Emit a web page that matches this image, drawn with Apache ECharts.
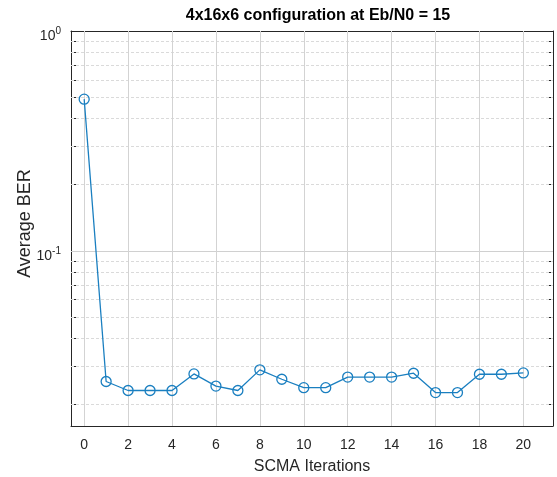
<!DOCTYPE html>
<html><head><meta charset="utf-8">
<script src="https://cdn.jsdelivr.net/npm/echarts@6/dist/echarts.min.js"></script>
<style>html,body{margin:0;padding:0;background:#fff}#c{width:557px;height:477px}</style>
</head><body><div id="c"></div>
<script>
const iterations = [0,1,2,3,4,5,6,7,8,9,10,11,12,13,14,15,16,17,18,19,20];
const avgBER = [0.49,0.0255,0.0232,0.0232,0.0232,0.0276,0.0243,0.0232,0.0288,0.0261,0.0239,0.0239,0.0267,0.0267,0.0267,0.0278,0.0227,0.0227,0.0275,0.0275,0.0279];
const xTicks = [0,2,4,6,8,10,12,14,16,18,20];
const yMajor = [0.1,1];
const yMinor = [0.02,0.03,0.04,0.05,0.06,0.07,0.08,0.09,0.2,0.3,0.4,0.5,0.6,0.7,0.8,0.9];
const titleText = '4x16x6 configuration at Eb/N0 = 15';

const font = 'Liberation Sans, Arial, Helvetica, sans-serif';
const axisColor = '#262626';
const lineColor = '#1a7fc0';
const allY = yMajor.concat(yMinor);
const chart = echarts.init(document.getElementById('c'));
const baseY = {
  type:'log', logBase:10, min:0.016, max:1,
  axisLine:{show:true, onZero:false, lineStyle:{color:axisColor, width:1}},
  axisTick:{show:true, inside:true, length:5, customValues: allY, lineStyle:{color:axisColor}},
  splitLine:{show:false}, minorTick:{show:false}
};
chart.setOption({
  animation:false,
  title:{text:titleText, left:313, top:3, textAlign:'center',
    textStyle:{fontFamily:font, fontWeight:'bold', fontSize:16, color:'#000'}},
  grid:{left:71, right:4, top:31, bottom:51, containLabel:false, outerBoundsMode:'none'},
  xAxis:[{
    type:'value', min:-0.6, max:21.35,
    name:'SCMA Iterations', nameLocation:'middle', nameGap:33, nameMoveOverlap:false,
    nameTextStyle:{fontFamily:font, fontSize:16, color:axisColor},
    axisLine:{show:true, onZero:false, lineStyle:{color:axisColor}},
    axisTick:{show:true, inside:true, length:5, customValues:xTicks, lineStyle:{color:axisColor}},
    axisLabel:{customValues:xTicks, fontFamily:font, fontSize:14, color:axisColor, margin:12},
    splitLine:{show:false}
  },{
    type:'value', min:-0.6, max:21.35, position:'top',
    axisLine:{show:true, onZero:false, lineStyle:{color:axisColor}},
    axisTick:{show:true, inside:true, length:5, customValues:xTicks, lineStyle:{color:axisColor}},
    axisLabel:{show:false}, splitLine:{show:false}
  }],
  yAxis:[Object.assign({}, baseY, {
    position:'left',
    name:'Average BER', nameLocation:'middle', nameGap:37, nameRotate:90, nameMoveOverlap:false,
    nameTextStyle:{fontFamily:font, fontSize:18, color:axisColor, padding:[0,0,0,10]},
    axisLabel:{customValues:yMajor, fontFamily:font, fontSize:14, color:axisColor, margin:10,
      padding:[10,0,0,0],
      formatter: v => '10{s|' + Math.round(Math.log10(v)) + '}',
      rich:{s:{fontSize:10, fontFamily:font, color:axisColor, verticalAlign:'bottom', padding:[0,0,9,0]}}}
  }), Object.assign({}, baseY, {position:'right', axisLabel:{show:false}})],
  series:[{
    type:'line', xAxisIndex:0, yAxisIndex:0,
    data: iterations.map((x,i)=>[x, avgBER[i]]),
    symbol:'circle', symbolSize:10,
    lineStyle:{color:lineColor, width:1.3},
    itemStyle:{color:'rgba(0,0,0,0)', borderColor:lineColor, borderWidth:1.3},
    z:5,
    markLine:{
      silent:true, symbol:'none', label:{show:false}, animation:false,
      data: yMinor.map(v=>({yAxis:v, lineStyle:{color:'#dadada', type:[3,2], width:1}}))
        .concat([{yAxis:0.1, lineStyle:{color:'#d0d0d0', type:'solid', width:1}}])
        .concat(xTicks.map(v=>({xAxis:v, lineStyle:{color:'#d3d3d3', type:'solid', width:1}})))
    }
  }]
});
</script></body></html>
